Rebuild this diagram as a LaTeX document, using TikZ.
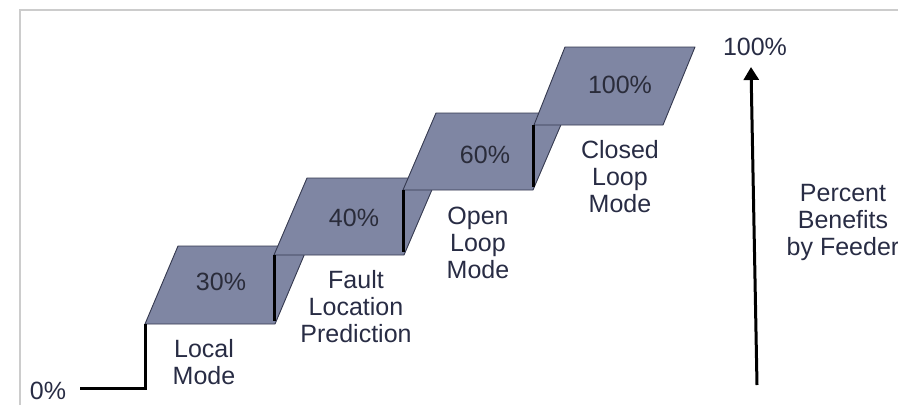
\documentclass[tikz,border=0pt]{standalone}
\usepackage{fontspec}
\setmainfont{Liberation Sans}
\usetikzlibrary{arrows.meta}
\definecolor{treadfill}{RGB}{127,134,163}
\definecolor{treadedge}{RGB}{52,56,78}
\definecolor{labelink}{RGB}{40,44,68}
\definecolor{pctink}{RGB}{42,44,58}
\definecolor{framegray}{RGB}{204,204,204}
\tikzset{
  tread/.style={fill=treadfill, draw=treadedge, line width=0.9pt, line join=round},
  riser/.style={draw=black, line width=3pt},
  baseline path/.style={draw=black, line width=3pt, line join=miter},
  lbl/.style={text=labelink, font=\fontsize{25}{27}\selectfont, align=center, inner sep=0pt},
  pct/.style={text=pctink, font=\fontsize{25}{27}\selectfont, inner sep=0pt},
  axis arrow/.style={draw=black, line width=3pt, -{Triangle[length=13pt,width=15pt]}}
}
\begin{document}
\begin{tikzpicture}[x=1pt, y=-1pt]
  \useasboundingbox (0,0) rectangle (898,405);
  \clip (0,0) rectangle (898,405);

  % outer frame (top and left edges)
  \draw[framegray, line width=1.5pt] (20,405) -- (20,10) -- (898,10);

  % treads, drawn from the lowest to the highest
  \draw[tread] (145,324) -- (275,324) -- (308,246) -- (178,246) -- cycle;
  \draw[tread] (274,255) -- (404,255) -- (437,178) -- (307,178) -- cycle;
  \draw[tread] (403,190) -- (533,190) -- (566,113) -- (436,113) -- cycle;
  \draw[tread] (534,125) -- (663,125) -- (695,47) -- (565,47) -- cycle;

  % risers between the treads
  \draw[riser] (274,255) -- (274,321);
  \draw[riser] (403,190) -- (403,252);
  \draw[riser] (533,125) -- (533,187);

  % starting level and the first riser
  \coordinate (start) at (80,388);
  \coordinate (firstcorner) at (145,324);
  \draw[baseline path] (start) -| (firstcorner);

  % percentages on the treads
  \node[pct] (p30) at (221,282) {30\%};
  \node[pct] (p40) at (354,218) {40\%};
  \node[pct] (p60) at (485,155) {60\%};
  \node[pct] (p100) at (620,85) {100\%};

  % step names
  \node[lbl] (local) at (204,362) {Local\\Mode};
  \node[lbl] (fault) at (356,307) {Fault\\Location\\Prediction};
  \node[lbl] (open) at (478,243) {Open\\Loop\\Mode};
  \node[lbl] (closed) at (620,177) {Closed\\Loop\\Mode};

  % scale labels and the upward arrow
  \node[lbl] (zero) at (48,391) {0\%};
  \node[lbl] (full) at (755,47) {100\%};
  \node[lbl] (benefits) at (843,222) {Percent\\Benefits\\by Feeder};
  \coordinate (arrowfoot) at (757,385);
  \coordinate (arrowtip) at (751,67);
  \draw[axis arrow] (arrowfoot) -- (arrowtip);
\end{tikzpicture}
\end{document}
